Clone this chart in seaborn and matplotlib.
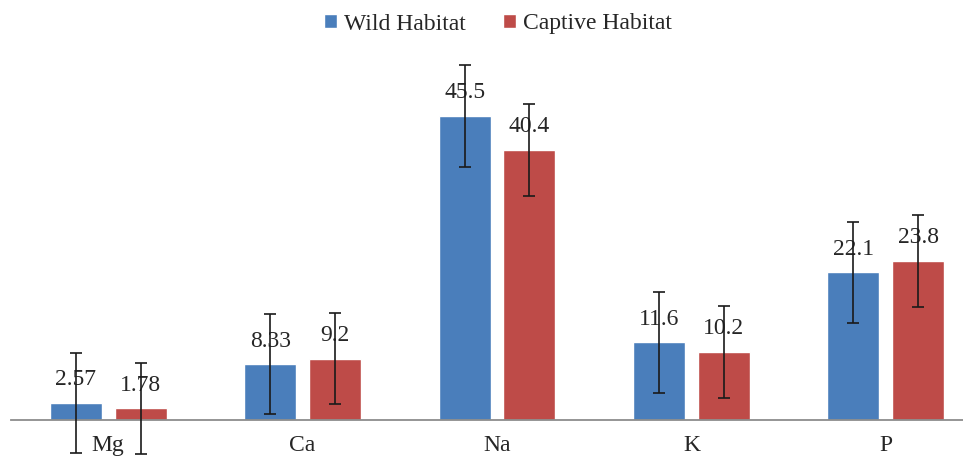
import matplotlib as mtl
mtl.use('Agg')
import numpy as np
import pandas as pd
import seaborn as sns
import matplotlib.pyplot as plt

# data
minerals = ['Mg', 'Ca', 'Na', 'K', 'P']
wild = [2.57, 8.33, 45.5, 11.6, 22.1]
captive = [1.78, 9.2, 40.4, 10.2, 23.8]
wild_err = [7.5, 7.5, 7.6, 7.5, 7.55]
captive_err = [6.8, 6.8, 6.9, 6.9, 6.85]
habitats = ['Wild Habitat', 'Captive Habitat']

df = pd.DataFrame({
    'mineral': minerals * 2,
    'value': wild + captive,
    'habitat': [habitats[0]] * len(minerals) + [habitats[1]] * len(minerals),
})
errs = {habitats[0]: wild_err, habitats[1]: captive_err}

sns.set_theme(style='white')
plt.rcParams['font.family'] = ['Liberation Serif', 'DejaVu Serif']
plt.rcParams['text.color'] = '#262626'

fig = plt.figure(figsize=(9.63, 4.57), dpi=100)
# axis line sits at 420 px from the top, plot top at 45 px
ax = fig.add_axes([11 / 963, 37 / 457, 972 / 963, 375 / 457])

sns.barplot(data=df, x='mineral', y='value', hue='habitat', order=minerals,
            hue_order=habitats, palette=['#4a7ebb', '#be4b48'],
            width=0.667, gap=0.2, errorbar=None, saturation=1, ax=ax)

for cont, h in zip(ax.containers, habitats):
    xs = [p.get_x() + p.get_width() / 2 for p in cont.patches]
    hs = [p.get_height() for p in cont.patches]
    eb = ax.errorbar(xs, hs, yerr=errs[h], fmt='none', ecolor='#1a1a1a',
                     elinewidth=1.2, capsize=4, capthick=1.2, zorder=5)
    for art in eb.lines[1] + eb.lines[2]:
        art.set_clip_on(False)
    ax.bar_label(cont, fmt='{:g}', padding=9, fontsize=17, color='#262626')

ax.set_xlim(-0.5, 4.5)
ax.set_ylim(0, 56.1)
ax.set_xlabel('')
ax.set_ylabel('')
ax.set_yticks([])
ax.tick_params(axis='x', length=0, pad=11, labelsize=17, labelcolor='#262626')
for s in ['top', 'right', 'left']:
    ax.spines[s].set_visible(False)
ax.spines['bottom'].set_color('#8c8c8c')
ax.spines['bottom'].set_linewidth(1.3)

ax.legend(loc='center', bbox_to_anchor=(0.517, 1 - 24 / 457), bbox_transform=fig.transFigure,
          ncol=2, frameon=False, fontsize=17, handlelength=0.55, handleheight=0.55,
          handletextpad=0.3, columnspacing=1.6)

fig.savefig('out.png', dpi=100)
